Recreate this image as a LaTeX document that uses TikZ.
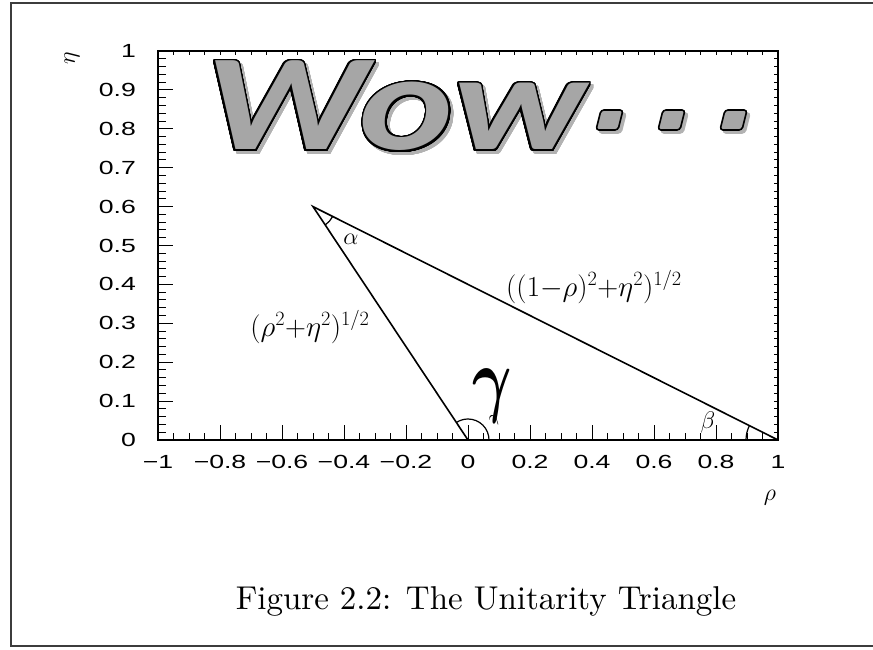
\RequirePackage{fix-cm}
\documentclass[tikz,border=0pt]{standalone}
\usepackage{fontspec}
\usepackage{amsmath}
\usepackage[copies]{contour}
\usepackage{tikz}
\usetikzlibrary{positioning}
\newfontfamily\wowfont{Carlito}[FakeStretch=1.3]
\newfontfamily\plotfont{Liberation Sans}[FakeStretch=1.4]
\newfontfamily\capfont{lmroman10-regular.otf}
\definecolor{wowGray}{HTML}{A6A6A6}
\definecolor{frameGray}{HTML}{3C3C3C}
\contourlength{1.7pt}
\contournumber{48}

\begin{document}
\begin{tikzpicture}[
  x=1pt, y=1pt,
  tickLabel/.style={font=\plotfont\fontsize{19}{21}\selectfont, inner sep=0pt},
  mathLabel/.style={font=\fontsize{29}{31}\selectfont, inner sep=0pt},
  greekLabel/.style={font=\fontsize{24}{26}\selectfont, inner sep=0pt},
  bigGamma/.style={font=\fontsize{84}{86}\selectfont, inner sep=0pt},
  captionText/.style={font=\capfont\fontsize{33}{38}\selectfont, inner sep=0pt},
  wowText/.style={font=\wowfont\bfseries\itshape\fontsize{137}{140}\selectfont, inner sep=0pt, anchor=base west},
  wowDot/.style={fill=wowGray, draw=black, line width=1.6pt, rounded corners=3pt},
  wowDotShadow/.style={fill=black!30, draw=black!30, line width=1.6pt, rounded corners=3pt},
  plotLine/.style={line width=1.6pt},
  tickLine/.style={line width=1pt},
  angleArc/.style={line width=1.2pt}
]
\useasboundingbox (0,0) rectangle (873,649);
% frame round the slide
\draw[frameGray, line width=2pt] (873,3) -- (11,3) -- (11,646) -- (873,646);

% the plot, origin at rho=0, eta=0
\begin{scope}[shift={(468pt,209pt)}, x=310pt, y=389pt]
  \draw[plotLine] (-1,0) rectangle (1,1);
  % ticks
  \foreach \i in {-19,...,19} {
    \draw[tickLine] (\i/20,0) -- ++(0,7pt);
    \draw[tickLine] (\i/20,1) -- ++(0,-4pt);
  }
  \foreach \i in {-4,...,4}
    \draw[tickLine] (\i/5,0) -- ++(0,15pt);
  \foreach \i in {1,...,49} {
    \draw[tickLine] (-1,\i/50) -- ++(8pt,0);
    \draw[tickLine] (1,\i/50) -- ++(-4pt,0);
  }
  \foreach \i in {1,...,9}
    \draw[tickLine] (-1,\i/10) -- ++(15pt,0);
  % tick labels
  \foreach \i/\s in {-5/−1,-4/−0.8,-3/−0.6,-2/−0.4,-1/−0.2,0/0,1/0.2,2/0.4,3/0.6,4/0.8,5/1}
    \node[tickLabel, anchor=north] (xl\i) at ([yshift=-15pt]\i/5,0) {\s};
  \foreach \i/\s in {0/0,1/0.1,2/0.2,3/0.3,4/0.4,5/0.5,6/0.6,7/0.7,8/0.8,9/0.9,10/1}
    \node[tickLabel, anchor=east] (yl\i) at ([xshift=-22pt]-1,\i/10) {\s};
  \node[greekLabel] (rhoAxis) at ([shift={(-8pt,-58pt)}]1,0) {$\rho$};
  \node[greekLabel, rotate=90] (etaAxis) at ([shift={(-86pt,-7pt)}]-1,1) {$\eta$};

  % the triangle
  \coordinate (apex) at (-0.5,0.6);
  \coordinate (orig) at (0,0);
  \coordinate (unit) at (1,0);
  \draw[plotLine] (unit) -- (apex) -- (orig);
  \draw[angleArc] ([shift={(-56.3:22pt)}]apex) arc[start angle=-56.3, end angle=-26.6, radius=22pt];
  \draw[angleArc] ([shift={(0:21pt)}]orig) arc[start angle=0, end angle=123.7, radius=21pt];
  \draw[angleArc] ([shift={(153.4:32pt)}]unit) arc[start angle=153.4, end angle=180, radius=32pt];

  \node[greekLabel] (alpha) at ([shift={(38pt,-33pt)}]apex) {$\alpha$};
  \node[greekLabel] (beta) at ([shift={(-70pt,18pt)}]unit) {$\beta$};
  \node[greekLabel, font=\fontsize{18}{20}\selectfont, rotate=30] (gammaSmall) at ([shift={(27pt,20pt)}]orig) {$\gamma$};
  \node[mathLabel] (leftSide) at ([shift={(-158pt,113pt)}]orig) {$(\rho^2{+}\eta^2)^{1/2}$};
  \node[mathLabel] (rightSide) at ([shift={(-184pt,153pt)}]unit) {$((1{-}\rho)^2{+}\eta^2)^{1/2}$};
  \node[bigGamma] (gammaBig) at ([shift={(24pt,44pt)}]orig) {\scalebox{0.72}[1]{$\boldsymbol{\gamma}$}};
\end{scope}

% the big word over the plot
\node[wowText, text=black!30] (wowShadow) at (208,496) {\contour{black!30}{Wow}};
\foreach \k in {0,1,2}
  \draw[wowDotShadow] (599+62*\k,516) -- ++(22,0) -- ++(5,20) -- ++(-22,0) -- cycle;
\node[wowText, text=wowGray] (wow) at (205,499) {\contour{black}{Wow}};
\foreach \k in {0,1,2}
  \draw[wowDot] (596+62*\k,519) -- ++(22,0) -- ++(5,20) -- ++(-22,0) -- cycle;

\node[captionText] (caption) at (486,48) {Figure 2.2: The Unitarity Triangle};
\end{tikzpicture}
\end{document}
